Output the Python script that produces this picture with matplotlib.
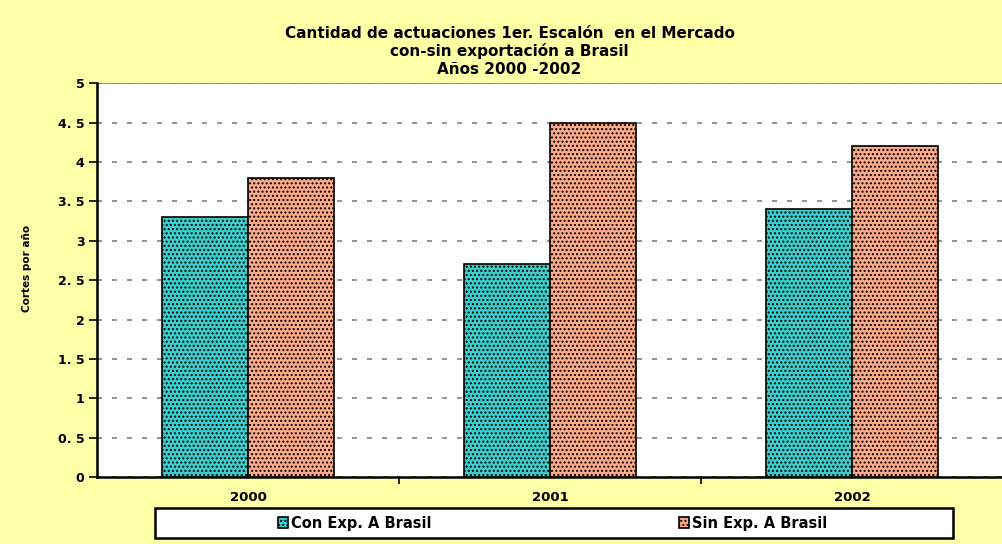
import matplotlib
matplotlib.use("Agg")
import matplotlib.pyplot as plt
from matplotlib.patches import Rectangle
import numpy as np

years = ["2000", "2001", "2002"]
con_exp = [3.3, 2.7, 3.4]
sin_exp = [3.8, 4.5, 4.2]
series_names = ["Con Exp. A Brasil", "Sin Exp. A Brasil"]
yticks = [0, 0.5, 1, 1.5, 2, 2.5, 3, 3.5, 4, 4.5, 5]
ytick_labels = ["0", "0. 5", "1", "1. 5", "2", "2. 5", "3", "3. 5", "4", "4. 5", "5"]

plt.rcParams['font.family'] = ['DejaVu Sans']
plt.rcParams['hatch.color'] = '#2a6a6a'

fig = plt.figure(figsize=(10.03, 5.44), dpi=100)
fig.patch.set_facecolor('#FFFFA8')
ax = fig.add_axes([0.0967, 0.123, 0.9033, 0.724])
ax.set_facecolor('white')

x = np.arange(len(years))
w = 0.285
b1 = ax.bar(x - w/2, con_exp, w, color='#3ACFCF', edgecolor='black', linewidth=1.2,
            hatch='....', label=series_names[0], zorder=3)
b2 = ax.bar(x + w/2, sin_exp, w, color='#FFAA88', edgecolor='black', linewidth=1.2,
            hatch='....', label=series_names[1], zorder=3)

ax.set_xlim(-0.5, 2.5)
ax.set_ylim(0, 5)
ax.set_yticks(yticks)
ax.set_yticklabels(ytick_labels, fontsize=9, fontweight='bold')
ax.set_xticks(x)
ax.set_xticklabels(years, fontsize=9.5, fontweight='bold')
ax.set_xticks([0.5, 1.5], minor=True)
ax.tick_params(axis='x', which='major', length=0, pad=10)
ax.tick_params(axis='x', which='minor', length=5, width=1.2, direction='out')
ax.tick_params(axis='y', length=6, width=1.2, direction='out', pad=3)

ax.grid(axis='y', linestyle=(0, (3, 6)), color='#808080', linewidth=1.2, zorder=0)
ax.spines['top'].set_visible(False)
ax.spines['right'].set_visible(False)
ax.spines['left'].set_linewidth(1.8)
ax.spines['bottom'].set_linewidth(1.8)
ax.axhline(5, color='#808080', linewidth=1.2, zorder=1)

ax.set_ylabel("Cortes por año", fontsize=7.5, fontweight='bold')
ax.yaxis.set_label_coords(-0.072, 0.53)

fig.text(0.508, 0.906, "Cantidad de actuaciones 1er. Escalón  en el Mercado\ncon-sin exportación a Brasil\nAños 2000 -2002",
         ha='center', va='center', fontsize=11, fontweight='bold', linespacing=1.2)

# legend box
fig.patches.append(Rectangle((0.1545, 0.011), 0.7956, 0.055, transform=fig.transFigure,
                             facecolor='white', edgecolor='black', linewidth=1.8, zorder=5))
half = 0.7956 / 2
for i, h in enumerate([b1, b2]):
    lg = fig.legend(handles=[h], loc='center',
                    bbox_to_anchor=(0.1545 + half * (i + 0.5), 0.0385),
                    frameon=False, fontsize=10.5, handlelength=0.7, handleheight=0.7,
                    handletextpad=0.2, borderaxespad=0)
    lg.set_zorder(6)
    for t in lg.get_texts():
        t.set_fontweight('bold')

fig.savefig("out.png", dpi=100, facecolor=fig.get_facecolor())
